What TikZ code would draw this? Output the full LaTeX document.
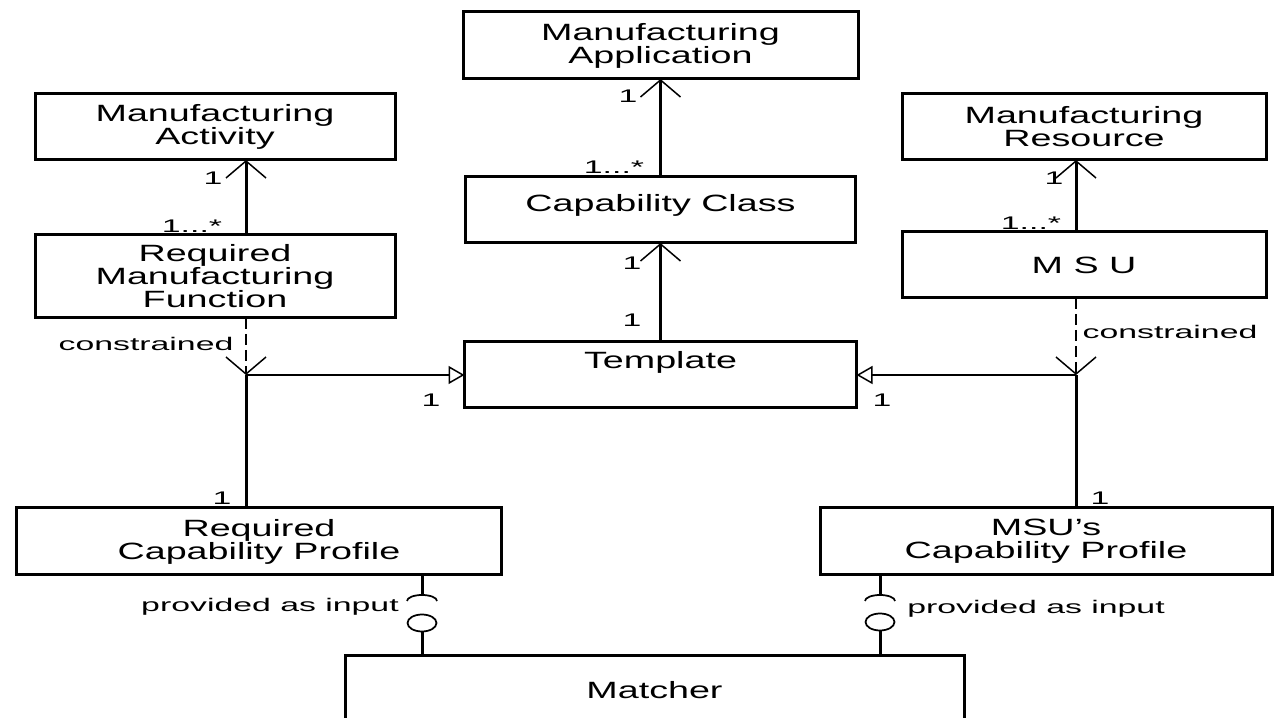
\documentclass[tikz,border=0pt]{standalone}
\usepackage{fontspec}
\setmainfont[FakeStretch=1.6]{Liberation Sans}
\newfontfamily\labfamily[FakeStretch=1.85]{Liberation Sans}
\usetikzlibrary{positioning}
\usetikzlibrary {arrows.meta}
\usetikzlibrary{shapes.geometric}

\begin{document}
\begin{tikzpicture}[
  cls/.style={draw, line width=.06cm, align=center, font=\boxfont, minimum height=1.32cm, inner sep=0pt, outer sep=0pt},
  lab/.style={font=\labfont, inner sep=0pt},
  assoc/.style={line width=.06cm, -{Straight Barb[length=.34cm,width=.8cm,line width=.03cm]}},
  dep/.style={line width=.05cm, dash pattern=on .22cm off .1cm, -{Straight Barb[length=.34cm,width=.8cm,line width=.03cm]}},
  gen/.style={line width=.04cm, -{Triangle[open,length=.32cm,width=.36cm,line width=.03cm]}},
  link/.style={line width=.06cm},
  ball/.style={draw, ellipse, line width=.035cm, minimum width=.58cm, minimum height=.34cm, inner sep=0pt}
]

\def\boxfont{\fontsize{13.4}{13.1}\selectfont}
\def\labfont{\labfamily\fontsize{10.4}{12}\selectfont}

\useasboundingbox (0,0) rectangle (25.66,-14.36);
\clip (0,0) rectangle (25.66,-14.36);

% middle column
\node[cls, minimum width=7.9cm, minimum height=1.34cm] (mapp) at (13.21,-.91) {Manufacturing\\Application};
\node[cls, minimum width=7.8cm, text depth=.3cm, below=1.96cm of mapp] (capclass) {Capability Class};
\node[cls, minimum width=7.84cm, text depth=.62cm, below=1.98cm of capclass] (templ) {Template};

% left column
\node[cls, minimum width=7.2cm] (mact) at (4.3,-2.54) {Manufacturing\\Activity};
\node[cls, minimum width=7.2cm, minimum height=1.66cm, below=1.5cm of mact] (rmf) {Required\\Manufacturing\\Function};
\node[cls, minimum width=9.68cm, minimum height=1.34cm] (rcp) at (5.18,-10.83) {Required\\Capability Profile};

% right column
\node[cls, minimum width=7.28cm] (mres) at (21.68,-2.54) {Manufacturing\\Resource};
\node[cls, minimum width=7.28cm, below=1.44cm of mres] (msu) {M S U};
\node[cls, minimum width=9.04cm, minimum height=1.34cm] (msucp) at (20.92,-10.83) {MSU's\\Capability Profile};

\node[cls, minimum width=12.38cm, minimum height=1.36cm] (matcher) at (13.09,-13.8) {Matcher};

\coordinate (jl) at (4.92,0 |- templ.west);
\coordinate (jr) at (21.52,0 |- templ.east);

\draw[assoc] (capclass.north) -- (mapp.south);
\draw[assoc] (templ.north) -- (capclass.south);
\draw[assoc] (rmf.north -| jl) -- (mact.south -| jl);
\draw[assoc] (msu.north -| jr) -- (mres.south -| jr);

\draw[dep] (rmf.south -| jl) -- (jl);
\draw[dep] (msu.south -| jr) -- (jr);
\draw[gen] (jl) -- (templ.west);
\draw[gen] (jr) -- (templ.east);
\draw[link] (jl) -- (rcp.north -| jl);
\draw[link] (jr) -- (msucp.north -| jr);

% ball and socket
\node[ball] (balll) at (8.44,-12.46) {};
\node[ball] (ballr) at (17.6,-12.44) {};
\coordinate (sockl) at (8.44,-11.9);
\coordinate (sockr) at (17.6,-11.9);
\draw[link] (rcp.south -| sockl) -- (sockl);
\draw[line width=.035cm] (sockl) ++(-.3,-.12) arc[start angle=180,end angle=0,x radius=.3cm,y radius=.12cm];
\draw[link] (balll) -- (matcher.north -| balll);
\draw[link] (msucp.south -| sockr) -- (sockr);
\draw[line width=.035cm] (sockr) ++(-.3,-.12) arc[start angle=180,end angle=0,x radius=.3cm,y radius=.12cm];
\draw[link] (ballr) -- (matcher.north -| ballr);

% multiplicities
\node[lab] (m1) at (12.56,-1.92) {1};
\node[lab] (m2) at (12.28,-3.34) {1...*};
\node[lab] (m3) at (12.64,-5.26) {1};
\node[lab] (m4) at (12.64,-6.4) {1};
\node[lab] (m5) at (4.26,-3.56) {1};
\node[lab] (m6) at (3.84,-4.52) {1...*};
\node[lab] (m7) at (21.08,-3.56) {1};
\node[lab] (m8) at (20.62,-4.46) {1...*};
\node[lab] (m9) at (8.62,-8.0) {1};
\node[lab] (m10) at (17.64,-8.0) {1};
\node[lab] (m11) at (4.44,-9.96) {1};
\node[lab] (m12) at (22.0,-9.96) {1};

\node[lab] (consl) at (2.92,-6.88) {constrained};
\node[lab] (consr) at (23.4,-6.64) {constrained};
\node[lab] (provl) at (5.4,-12.14) {provided as input};
\node[lab] (provr) at (20.72,-12.18) {provided as input};
\end{tikzpicture}
\end{document}
